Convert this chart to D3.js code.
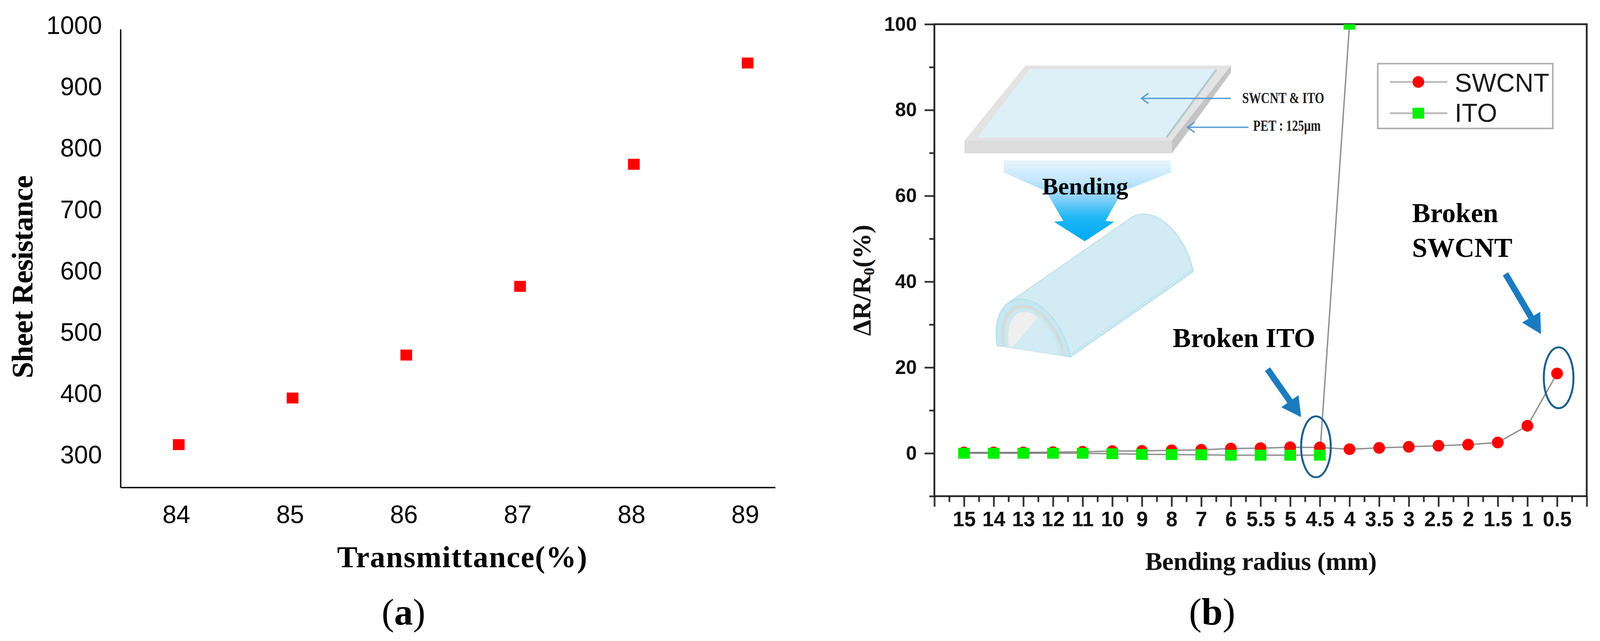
<!DOCTYPE html>
<html><head><meta charset="utf-8">
<script src="https://cdn.jsdelivr.net/npm/d3@7"></script>
<style>
html,body{margin:0;padding:0;background:#fff;}
svg{display:block;}
</style></head>
<body>
<script>
// ---------- Panel (a) data ----------
const aTransmittance = [84, 85, 86, 87, 88, 89];
const aSheetResistance = [316, 392, 462, 574, 773, 938];
const aYTicks = [300, 400, 500, 600, 700, 800, 900, 1000];
const aXTicks = [84, 85, 86, 87, 88, 89];

// ---------- Panel (b) data ----------
const bCategories = ["15","14","13","12","11","10","9","8","7","6","5.5","5","4.5","4","3.5","3","2.5","2","1.5","1","0.5"];
const bSWCNT = [0.2,0.2,0.2,0.25,0.35,0.5,0.55,0.7,0.8,1.1,1.2,1.4,1.35,0.95,1.25,1.5,1.75,2.0,2.5,6.4,18.6];
const bITO   = [0,0,0,0,0,-0.1,-0.25,-0.3,-0.35,-0.45,-0.45,-0.45,-0.45,100];
const bYMajor = [0, 20, 40, 60, 80, 100];
const bYMinor = [-10, 10, 30, 50, 70, 90];

const SERIF = "'Liberation Serif','Times New Roman',serif";
const SANS = "'Liberation Sans',Arial,sans-serif";

const svg = d3.select("body").append("svg").attr("width", 4100).attr("height", 1642);
svg.append("rect").attr("width", 4100).attr("height", 1642).attr("fill", "#fff");

// ================= Panel (a) =================
const ax = d3.scaleLinear().domain([83.49, 89.244]).range([309, 1985]);
const ay = d3.scaleLinear().domain([246, 993]).range([1249, 75]);
const ga = svg.append("g");

ga.append("line").attr("x1", ax(83.49)).attr("x2", ax(83.49)).attr("y1", ay(993)).attr("y2", ay(246))
  .attr("stroke", "#000").attr("stroke-width", 3.4);
ga.append("line").attr("x1", ax(83.49)).attr("x2", ax(89.244)).attr("y1", ay(246)).attr("y2", ay(246))
  .attr("stroke", "#000").attr("stroke-width", 3.4);

ga.selectAll("text.ayt").data(aYTicks).join("text").attr("class","ayt")
  .attr("x", 261).attr("y", d => ay(d)).attr("dy", "0.36em")
  .attr("text-anchor", "end").attr("font-family", SANS).attr("font-size", 64).attr("fill", "#000")
  .text(d => d);
ga.selectAll("text.axt").data(aXTicks).join("text").attr("class","axt")
  .attr("x", d => ax(d) - 6).attr("y", 1340)
  .attr("text-anchor", "middle").attr("font-family", SANS).attr("font-size", 64).attr("fill", "#000")
  .text(d => d);

ga.selectAll("rect.pt").data(aTransmittance).join("rect").attr("class","pt")
  .attr("x", d => ax(d) - 15).attr("y", (d, i) => ay(aSheetResistance[i]) - 14)
  .attr("width", 30).attr("height", 28).attr("fill", "#ff0000");

ga.append("text").attr("transform", "translate(83,709) rotate(-90)")
  .attr("text-anchor", "middle").attr("font-family", SERIF).attr("font-weight", "bold")
  .attr("font-size", 76).attr("textLength", 520).attr("lengthAdjust", "spacing").text("Sheet Resistance");
ga.append("text").attr("x", 1183).attr("y", 1453)
  .attr("text-anchor", "middle").attr("font-family", SERIF).attr("font-weight", "bold")
  .attr("font-size", 78).attr("textLength", 640).attr("lengthAdjust", "spacing").text("Transmittance(%)");
const la = ga.append("text").attr("x", 1033).attr("y", 1600).attr("text-anchor", "middle")
  .attr("font-family", SERIF).attr("font-size", 96);
la.append("tspan").text("(");
la.append("tspan").attr("font-weight", "bold").text("a");
la.append("tspan").text(")");

// ================= Panel (b) =================
const bx = d3.scaleLinear().domain([-1, 21]).range([2392, 4062]);
const by = d3.scaleLinear().domain([-10, 100]).range([1271, 62]);
const gb = svg.append("g");

const defs = svg.append("defs");
defs.append("clipPath").attr("id", "plotclip").append("rect")
  .attr("x", bx(-1)).attr("y", by(100)).attr("width", bx(21) - bx(-1)).attr("height", by(-10) - by(100));
const grad = defs.append("linearGradient").attr("id", "bendgrad").attr("x1", 0).attr("y1", 0).attr("x2", 0).attr("y2", 1);
grad.append("stop").attr("offset", "0%").attr("stop-color", "#e6f5fe");
grad.append("stop").attr("offset", "25%").attr("stop-color", "#c2e6fb");
grad.append("stop").attr("offset", "45%").attr("stop-color", "#8fd3f8");
grad.append("stop").attr("offset", "70%").attr("stop-color", "#1fb6f5");
grad.append("stop").attr("offset", "100%").attr("stop-color", "#00a8f4");

// ---- inset illustration (decorative) ----
const ins = gb.append("g");
// flat plate
ins.append("polygon").attr("points", "2625,168 3151,168 3000,360 2469,360").attr("fill", "#e3e3e3");
ins.append("polygon").attr("points", "2637,177 3116,177 2988,352 2502,352").attr("fill", "#ddf0f7");
ins.append("line").attr("x1", 2986).attr("y1", 352).attr("x2", 3114).attr("y2", 178)
  .attr("stroke", "#b4c8ce").attr("stroke-width", 5);
ins.append("rect").attr("x", 2469).attr("y", 360).attr("width", 531).attr("height", 33).attr("fill", "#dcdcdc");
ins.append("polygon").attr("points", "3000,360 3151,168 3151,186 3000,393").attr("fill", "#c4c4c4");
// label arrows
function chevronLine(xl, xr, yy, cw, ch) {
  ins.append("line").attr("x1", xl).attr("x2", xr).attr("y1", yy).attr("y2", yy)
    .attr("stroke", "#5b9bd5").attr("stroke-width", 3.5);
  ins.append("path").attr("d", `M${xl+cw},${yy-ch} L${xl},${yy} L${xl+cw},${yy+ch}`)
    .attr("fill", "none").attr("stroke", "#5b9bd5").attr("stroke-width", 3.5);
}
chevronLine(2922, 3151, 252, 18, 13);
chevronLine(3040, 3196, 326, 18, 13);
ins.append("text").attr("x", 3180).attr("y", 264).attr("font-family", SERIF).attr("font-weight", "bold")
  .attr("font-size", 40).attr("textLength", 210).attr("lengthAdjust", "spacingAndGlyphs").attr("fill", "#222")
  .text("SWCNT & ITO");
ins.append("text").attr("x", 3208).attr("y", 335).attr("font-family", SERIF).attr("font-weight", "bold")
  .attr("font-size", 40).attr("textLength", 173).attr("lengthAdjust", "spacingAndGlyphs").attr("fill", "#222")
  .text("PET : 125μm");
// bending arrow
ins.append("polygon")
  .attr("points", "2570,411 2998,411 2998,442 2873,490 2830,566 2853,568 2777,618 2698,568 2722,566 2678,490 2570,442")
  .attr("fill", "url(#bendgrad)");
ins.append("text").attr("x", 2778).attr("y", 498).attr("text-anchor", "middle")
  .attr("font-family", SERIF).attr("font-weight", "bold").attr("font-size", 62).attr("fill", "#000").text("Bending");

// half cylinder
const cc = [2646.5, 899.5];
const cu = [0.988, 0.153], cv = [-0.1746, -0.9846];
const coff = [314, -218];
function archPts(a, b, t0, t1, shift) {
  const s = shift || [0, 0];
  return d3.range(0, 41).map(k => {
    const t = t0 + (t1 - t0) * k / 40;
    return [cc[0] + s[0] + a*Math.cos(t)*cu[0] + b*Math.sin(t)*cv[0],
            cc[1] + s[1] + a*Math.cos(t)*cu[1] + b*Math.sin(t)*cv[1]];
  });
}
const pathOf = pts => "M" + pts.map(p => p[0].toFixed(1) + "," + p[1].toFixed(1)).join("L");
const nearOuter = archPts(94.6, 134.6, Math.PI, 0);
const farOuter = archPts(94.6, 134.6, Math.PI, 0, coff);
const hull = d3.polygonHull(nearOuter.concat(farOuter));
ins.append("path").attr("d", pathOf(hull) + "Z").attr("fill", "#d3ebf3").attr("stroke", "#c0e4ee").attr("stroke-width", 3);
ins.append("path").attr("d", pathOf(archPts(94.6, 134.6, Math.PI*0.45, 0, coff)))
  .attr("fill", "none").attr("stroke", "#bfe3ed").attr("stroke-width", 3);
const nrf = nearOuter[40], frf = farOuter[40];
ins.append("line").attr("x1", nrf[0]).attr("y1", nrf[1]).attr("x2", frf[0]).attr("y2", frf[1])
  .attr("stroke", "#b9e0ea").attr("stroke-width", 3);
ins.append("line").attr("x1", nrf[0]+2).attr("y1", nrf[1]-8).attr("x2", frf[0]+2).attr("y2", frf[1]-8)
  .attr("stroke", "#c3e5ee").attr("stroke-width", 2.5);
function ring(a1, b1, a2, b2, fill, stroke) {
  const outer = archPts(a1, b1, Math.PI, 0);
  const inner = archPts(a2, b2, 0, Math.PI);
  const p = ins.append("path").attr("d", pathOf(outer.concat(inner)) + "Z").attr("fill", fill);
  if (stroke) p.attr("stroke", stroke).attr("stroke-width", 2.5);
}
ring(94.6, 134.6, 80, 119, "#c6e7f0", "#b5dfe9");
ring(80, 119, 73, 111, "#d9d9d9");
ring(73, 111, 64, 102, "#c9e8f0");
ins.append("path").attr("d", pathOf(archPts(64, 102, Math.PI, 0)) + "Z").attr("fill", "#d3ebf3");
const gpts = archPts(64, 102, Math.PI, Math.PI*0.36);
gpts.push([cc[0] - 64*cu[0] + 10, cc[1] - 64*cu[1] - 2]);
ins.append("path").attr("d", pathOf(gpts) + "Z").attr("fill", "#efefef");

// ---- axes ----
const yMaj = d3.axisLeft(by).tickValues(bYMajor).tickSize(25).tickPadding(20).tickFormat(d3.format("d"));
const yMin = d3.axisLeft(by).tickValues(bYMinor).tickSize(13).tickFormat("");
const gyMaj = gb.append("g").attr("transform", `translate(${bx(-1)},0)`).call(yMaj);
const gyMin = gb.append("g").attr("transform", `translate(${bx(-1)},0)`).call(yMin);
const xMajIdx = d3.range(-1, 22);
const xMinIdx = d3.range(-0.5, 21, 1);
const xMaj = d3.axisBottom(bx).tickValues(xMajIdx).tickSize(27).tickPadding(12)
  .tickFormat(i => (i >= 0 && i < bCategories.length) ? bCategories[i] : "");
const xMin = d3.axisBottom(bx).tickValues(xMinIdx).tickSize(15).tickFormat("");
const gxMaj = gb.append("g").attr("transform", `translate(0,${by(-10)})`).call(xMaj);
const gxMin = gb.append("g").attr("transform", `translate(0,${by(-10)})`).call(xMin);
[gyMaj, gyMin, gxMaj, gxMin].forEach(g => {
  g.select(".domain").remove();
  g.selectAll(".tick line").attr("stroke", "#333").attr("stroke-width", 4.5);
  g.selectAll(".tick text").attr("font-family", SANS).attr("font-weight", "bold").attr("fill", "#111");
});
gyMaj.selectAll(".tick text").attr("font-size", 50);
gxMaj.selectAll(".tick text").attr("font-size", 53);
gb.append("rect").attr("x", bx(-1)).attr("y", by(100)).attr("width", bx(21) - bx(-1)).attr("height", by(-10) - by(100))
  .attr("fill", "none").attr("stroke", "#222").attr("stroke-width", 4.5);

// ---- series ----
const plot = gb.append("g").attr("clip-path", "url(#plotclip)");
const lineGen = d3.line().x((d, i) => bx(i)).y(d => by(d));
plot.append("path").datum(bSWCNT).attr("d", lineGen).attr("fill", "none")
  .attr("stroke", "#606060").attr("stroke-opacity", 0.7).attr("stroke-width", 3.5);
plot.append("path").datum(bITO).attr("d", lineGen).attr("fill", "none")
  .attr("stroke", "#606060").attr("stroke-opacity", 0.7).attr("stroke-width", 3.5);
plot.selectAll("circle.sw").data(bSWCNT).join("circle").attr("class", "sw")
  .attr("cx", (d, i) => bx(i)).attr("cy", d => by(d)).attr("r", 15).attr("fill", "#ff0000");
plot.selectAll("rect.ito").data(bITO).join("rect").attr("class", "ito")
  .attr("x", (d, i) => bx(i) - 15).attr("y", d => by(d) - 14).attr("width", 30).attr("height", 28).attr("fill", "#00f000");

// ---- annotations ----
function arrow(tail, tip) {
  const dx = tip[0]-tail[0], dy = tip[1]-tail[1], len = Math.hypot(dx, dy);
  const ux = dx/len, uy = dy/len, px = -uy, py = ux;
  const w = 8, L = 50, H = 27;
  const bxp = tip[0]-ux*L, byp = tip[1]-uy*L;
  const pts = [[tail[0]+px*w, tail[1]+py*w],[bxp+px*w, byp+py*w],[bxp+px*H, byp+py*H],tip,
               [bxp-px*H, byp-py*H],[bxp-px*w, byp-py*w],[tail[0]-px*w, tail[1]-py*w]];
  gb.append("polygon").attr("points", pts.map(p => p.join(",")).join(" ")).attr("fill", "#1b7bbf");
}
const eITO = [bx(bCategories.indexOf("4.5")) - 10, by(1.5)];
const eSW = [bx(bCategories.indexOf("0.5")) + 4, by(17.6)];
[eITO, eSW].forEach(c => {
  gb.append("ellipse").attr("cx", c[0]).attr("cy", c[1]).attr("rx", 38).attr("ry", 78)
    .attr("fill", "none").attr("stroke", "#1f5f8c").attr("stroke-width", 5);
});
arrow([eITO[0]-124, eITO[1]-199], [eITO[0]-38, eITO[1]-76]);
arrow([eSW[0]-136, eSW[1]-266], [eSW[0]-45, eSW[1]-112]);
gb.append("text").attr("x", 3002).attr("y", 889).attr("font-family", SERIF).attr("font-weight", "bold")
  .attr("font-size", 70).attr("fill", "#000").text("Broken ITO");
gb.append("text").attr("x", 3615).attr("y", 569).attr("font-family", SERIF).attr("font-weight", "bold")
  .attr("font-size", 70).attr("fill", "#000").text("Broken");
gb.append("text").attr("x", 3615).attr("y", 658).attr("font-family", SERIF).attr("font-weight", "bold")
  .attr("font-size", 70).attr("fill", "#000").text("SWCNT");

// ---- legend ----
const lg = gb.append("g");
lg.append("rect").attr("x", 3527).attr("y", 163).attr("width", 448).attr("height", 166)
  .attr("fill", "#fff").attr("stroke", "#b0b0b0").attr("stroke-width", 4);
const legendItems = [{name: "SWCNT", y: 210, base: 235}, {name: "ITO", y: 290, base: 312}];
legendItems.forEach((it, k) => {
  lg.append("line").attr("x1", 3558).attr("x2", 3705).attr("y1", it.y).attr("y2", it.y)
    .attr("stroke", "#bdbdbd").attr("stroke-width", 5);
  if (k === 0) lg.append("circle").attr("cx", 3631).attr("cy", it.y).attr("r", 15).attr("fill", "#ff0000");
  else lg.append("rect").attr("x", 3616).attr("y", it.y - 14).attr("width", 30).attr("height", 28).attr("fill", "#00f000");
  lg.append("text").attr("x", 3724).attr("y", it.base).attr("font-family", SANS).attr("font-size", 66)
    .attr("fill", "#1a1a1a").text(it.name);
});

// ---- axis titles ----
const yt = gb.append("text").attr("transform", "translate(2228,718) rotate(-90)")
  .attr("text-anchor", "middle").attr("font-family", SERIF).attr("font-weight", "bold").attr("font-size", 66).attr("fill", "#111");
yt.append("tspan").text("ΔR/R");
yt.append("tspan").attr("font-size", 40).attr("dy", 10).text("0");
yt.append("tspan").attr("dy", -10).text("(%)");
gb.append("text").attr("x", 3228).attr("y", 1460).attr("text-anchor", "middle")
  .attr("font-family", SERIF).attr("font-weight", "bold").attr("font-size", 66).attr("fill", "#111")
  .attr("textLength", 593).attr("lengthAdjust", "spacing").text("Bending radius (mm)");
const lb = gb.append("text").attr("x", 3103).attr("y", 1600).attr("text-anchor", "middle")
  .attr("font-family", SERIF).attr("font-size", 97);
lb.append("tspan").text("(");
lb.append("tspan").attr("font-weight", "bold").text("b");
lb.append("tspan").text(")");
</script>
</body></html>
